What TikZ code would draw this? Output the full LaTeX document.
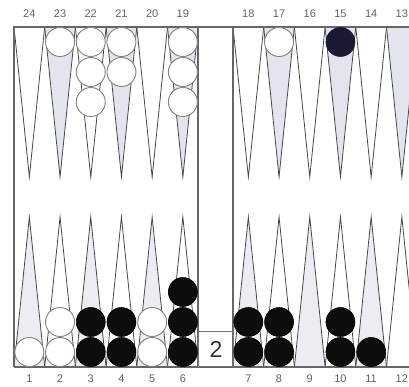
\documentclass[tikz,border=0pt]{standalone}
\usepackage{fontspec}
\setmainfont{Liberation Sans}
\definecolor{ptshade}{HTML}{E2E4EE}
\definecolor{ptshadeb}{HTML}{EBEDF3}
\definecolor{navychk}{HTML}{1A1A34}
\begin{document}
\begin{tikzpicture}[x=1pt,y=-1pt,
  tri/.style={draw=black!72, line width=0.8pt, line join=miter},
  frame/.style={draw=black!60, line width=1.2pt},
  wchk/.style={circle, draw=black!50, line width=0.9pt, fill=white, minimum size=29pt, inner sep=0pt},
  bchk/.style={circle, draw=black, line width=0.6pt, fill=black!95, minimum size=29pt, inner sep=0pt},
  nchk/.style={bchk, draw=navychk, fill=navychk},
  lbl/.style={font=\fontsize{11}{13}\selectfont, text=black!62, inner sep=0pt},
  cube/.style={draw=black!55, line width=0.8pt, minimum width=35pt, minimum height=35pt, inner sep=0pt, font=\fontsize{23}{26}\selectfont, text=black!80}]
\useasboundingbox (0,0) rectangle (409,387);
\clip (0,0) rectangle (409,387);
% points
\foreach \xo in {14,233}{
  \foreach \i in {0,...,5}{
    \pgfmathsetmacro\a{\xo+\i*30.7}
    \pgfmathsetmacro\m{\a+15.35}
    \pgfmathsetmacro\b{\a+30.7}
    \ifodd\i
      \filldraw[tri, fill=ptshade] (\a,27) -- (\m,177) -- (\b,27);
      \draw[tri] (\a,367) -- (\m,217) -- (\b,367);
    \else
      \draw[tri] (\a,27) -- (\m,177) -- (\b,27);
      \filldraw[tri, fill=ptshadeb] (\a,367) -- (\m,217) -- (\b,367);
    \fi
  }
}
% frame
\draw[frame] (14,367) -- (14,27) -- (409,27);
\draw[frame] (14,367) -- (409,367);
\draw[frame] (198,27) -- (198,367);
\draw[frame] (233,27) -- (233,367);
% doubling cube
\node[cube, anchor=south west] (cube) at (198,367) {2};
% labels
\foreach \n/\x in {24/29.35,23/60.05,22/90.75,21/121.45,20/152.15,19/182.85,18/248.35,17/279.05,16/309.75,15/340.45,14/371.15,13/401.85}
  \node[lbl] (t\n) at (\x,14) {\n};
\foreach \n/\x in {1/29.35,2/60.05,3/90.75,4/121.45,5/152.15,6/182.85,7/248.35,8/279.05,9/309.75,10/340.45,11/371.15,12/401.85}
  \node[lbl] (b\n) at (\x,379) {\n};
% top checkers
\node[wchk] (w23a) at (60.05,42) {};
\node[wchk] (w22a) at (90.75,42) {};
\node[wchk] (w22b) at (90.75,72) {};
\node[wchk] (w22c) at (90.75,102) {};
\node[wchk] (w21a) at (121.45,42) {};
\node[wchk] (w21b) at (121.45,72) {};
\node[wchk] (w19a) at (182.85,42) {};
\node[wchk] (w19b) at (182.85,72) {};
\node[wchk] (w19c) at (182.85,102) {};
\node[wchk] (w17a) at (279.05,42) {};
\node[nchk] (k15a) at (340.45,42) {};
% bottom checkers
\node[wchk] (w1a) at (29.35,352) {};
\node[wchk] (w2a) at (60.05,352) {};
\node[wchk] (w2b) at (60.05,322) {};
\node[bchk] (k3a) at (90.75,352) {};
\node[bchk] (k3b) at (90.75,322) {};
\node[bchk] (k4a) at (121.45,352) {};
\node[bchk] (k4b) at (121.45,322) {};
\node[wchk] (w5a) at (152.15,352) {};
\node[wchk] (w5b) at (152.15,322) {};
\node[bchk] (k6a) at (182.85,352) {};
\node[bchk] (k6b) at (182.85,322) {};
\node[bchk] (k6c) at (182.85,292) {};
\node[bchk] (k7a) at (248.35,352) {};
\node[bchk] (k7b) at (248.35,322) {};
\node[bchk] (k8a) at (279.05,352) {};
\node[bchk] (k8b) at (279.05,322) {};
\node[bchk] (k10a) at (340.45,352) {};
\node[bchk] (k10b) at (340.45,322) {};
\node[bchk] (k11a) at (371.15,352) {};
\end{tikzpicture}
\end{document}
